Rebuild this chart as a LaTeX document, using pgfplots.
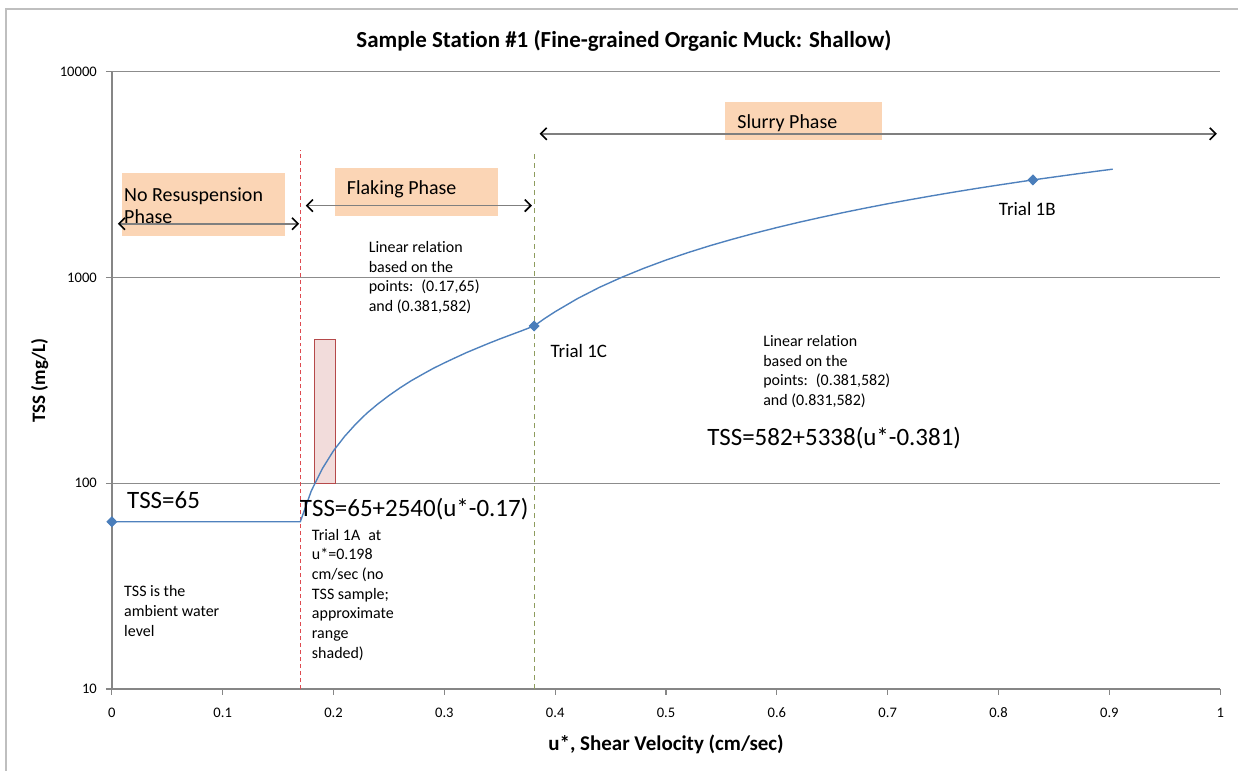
\documentclass[border=0pt]{standalone}
\usepackage{pgfplots}
\pgfplotsset{compat=1.18}
\usepackage{fontspec}
\setmainfont{Carlito}[Ligatures=NoCommon]
\usetikzlibrary{arrows.meta,calc}

\definecolor{axisgray}{HTML}{868686}
\definecolor{gridgray}{HTML}{8C8C8C}
\definecolor{framegray}{HTML}{BFBFBF}
\definecolor{curveblue}{HTML}{4F81BD}
\definecolor{markblue}{HTML}{4A7EBB}
\definecolor{phasefill}{HTML}{FBD5B5}
\definecolor{shadefill}{HTML}{F2DCDB}
\definecolor{shadeedge}{HTML}{B5494A}
\definecolor{limitred}{HTML}{DE4A50}
\definecolor{limitolive}{HTML}{8E9C5E}
\definecolor{arrowgray}{HTML}{7F7F7F}

% TSS curve: ambient level, flaking phase, slurry phase
\pgfplotstableread{
u      tss
0.000  65
0.170  65
0.180  92
0.190  118
0.200  144
0.210  169
0.220  194
0.230  219
0.240  243
0.250  267
0.260  291
0.270  315
0.280  338
0.290  362
0.300  385
0.310  408
0.320  432
0.330  455
0.340  479
0.350  503
0.360  527
0.370  552
0.381  582
0.390  630
0.400  683
0.420  790
0.440  897
0.460  1003
0.480  1110
0.500  1217
0.520  1324
0.540  1431
0.560  1537
0.580  1644
0.600  1751
0.620  1858
0.640  1964
0.660  2071
0.680  2178
0.700  2285
0.720  2391
0.740  2498
0.760  2605
0.780  2712
0.800  2818
0.820  2925
0.831  2984
0.850  3083
0.870  3190
0.890  3297
0.903  3366
}\curvedata

% measured / anchor points
\pgfplotstableread{
u      tss
0.000  65
0.381  582
0.831  2984
}\trialdata

\tikzset{
  phasearrow/.style={draw=arrowgray, line width=0.8pt,
    {Straight Barb[color=black,length=3pt,width=6pt,line width=0.8pt]}-{Straight Barb[color=black,length=3pt,width=6pt,line width=0.8pt]}},
  % multi-line notes are placed by the baseline of their last line
  small/.style={font=\fontsize{8}{9.85}\selectfont, inner sep=0pt, align=left, anchor=base west},
  medium/.style={font=\fontsize{10}{11}\selectfont, inner sep=0pt, align=left, anchor=base west},
  large/.style={font=\fontsize{12.5}{14}\selectfont, inner sep=0pt, anchor=base west},
}

\begin{document}
\begin{tikzpicture}
\begin{axis}[
  scale only axis, width=555pt, height=309pt,
  xmin=0, xmax=1, ymode=log, ymin=10, ymax=10000,
  axis x line*=bottom, axis y line*=left,
  axis line style={draw=axisgray, line width=1pt},
  xtick={0,0.1,0.2,0.3,0.4,0.5,0.6,0.7,0.8,0.9,1},
  xticklabels={0,0.1,0.2,0.3,0.4,0.5,0.6,0.7,0.8,0.9,1},
  ytick={10,100,1000,10000}, yticklabels={10,100,1000,10000},
  yminorticks=false, xminorticks=false,
  tick align=outside, major tick length=3pt,
  tick style={draw=axisgray, line width=0.6pt},
  ymajorgrids, grid style={draw=gridgray, line width=0.6pt},
  ticklabel style={font=\fontsize{7.3}{8}\selectfont},
  xticklabel style={yshift=-3pt},
  yticklabel style={xshift=-1pt},
  title={Sample Station \#1 (Fine-grained Organic Muck: Shallow)},
  title style={font=\bfseries\fontsize{11.5}{13}\selectfont, at={(axis description cs:0.462,1.031)}, anchor=center},
  xlabel={u*, Shear Velocity (cm/sec)},
  ylabel={TSS (mg/L)},
  every axis x label/.style={at={(axis description cs:0.5,-0.089)}, anchor=center, font=\bfseries\fontsize{10.5}{12}\selectfont},
  every axis y label/.style={at={(axis description cs:-0.065,0.5)}, rotate=90, anchor=center, font=\bfseries\fontsize{9.5}{12}\selectfont},
  clip=false,
]
% phase boxes
\fill[phasefill] (axis cs:0.009,1600) rectangle (axis cs:0.156,3237);
\fill[phasefill] (axis cs:0.201,2000) rectangle (axis cs:0.348,3420);
\fill[phasefill] (axis cs:0.553,4677) rectangle (axis cs:0.695,7140);

% phase limits
\draw[limitred, line width=0.6pt, dash pattern=on 2pt off 1.5pt] (axis cs:0.17,10) -- (axis cs:0.17,4180);
\draw[limitolive, line width=0.6pt, dash pattern=on 2.5pt off 2pt] (axis cs:0.381,10) -- (axis cs:0.381,4180);

% phase extents
\draw[phasearrow] (axis cs:0.0054,1828) -- (axis cs:0.169,1828);
\draw[phasearrow] (axis cs:0.175,2239) -- (axis cs:0.379,2239);
\draw[phasearrow] (axis cs:0.386,5000) -- (axis cs:0.997,5000);

% approximate TSS range for Trial 1A
\draw[shadeedge, fill=shadefill, line width=0.6pt] (axis cs:0.183,100) rectangle (axis cs:0.202,500);

\addplot[curveblue, line width=0.7pt, no markers] table[x=u, y=tss] {\curvedata};
\addplot[only marks, mark=diamond*, mark size=2.5pt, mark options={fill=markblue, draw=markblue, xscale=1.3}] table[x=u, y=tss] {\trialdata};

% annotations
\node[medium] at (axis cs:0.0108,1830) {No Resuspension\\Phase};
\node[medium] at (axis cs:0.2117,2530) {Flaking Phase};
\node[medium] at (axis cs:0.564,5300) {Slurry Phase};
\node[small] at (axis cs:0.2315,683.9) {Linear relation\\based on the\\points:\enspace(0.17,65)\\and (0.381,582)};
\node[small] at (axis cs:0.5874,239.1) {Linear relation\\based on the\\points:\enspace(0.381,582)\\and (0.831,582)};
\node[large] at (axis cs:0.5369,152.9) {TSS=582+5338(u*-0.381)};
\node[large] at (axis cs:0.0135,75.6) {TSS=65};
\node[large] at (axis cs:0.1694,69.1) {TSS=65+2540(u*-0.17)};
\node[small] at (axis cs:0.1802,14.14) {Trial 1A\enspace at\\u*=0.198\\cm/sec (no\\TSS sample;\\approximate\\range\\shaded)};
\node[small] at (axis cs:0.0108,18.08) {TSS is the\\ambient water\\level};
\node[font=\fontsize{9.5}{11}\selectfont, inner sep=0pt, anchor=base west] at (axis cs:0.3955,409) {Trial 1C};
\node[font=\fontsize{9.5}{11}\selectfont, inner sep=0pt, anchor=base west] at (axis cs:0.8,2000) {Trial 1B};
\end{axis}
% chart frame and page extent
\draw[framegray, line width=0.8pt] ($(current axis.south west)+(-53pt,-41pt)$) -- ($(current axis.north west)+(-53pt,31.5pt)$) -- ($(current axis.north east)+(9pt,31.5pt)$);
\path ($(current axis.south west)+(-56pt,-40.5pt)$) rectangle ($(current axis.north east)+(8.5pt,36pt)$);
\end{tikzpicture}
\end{document}
